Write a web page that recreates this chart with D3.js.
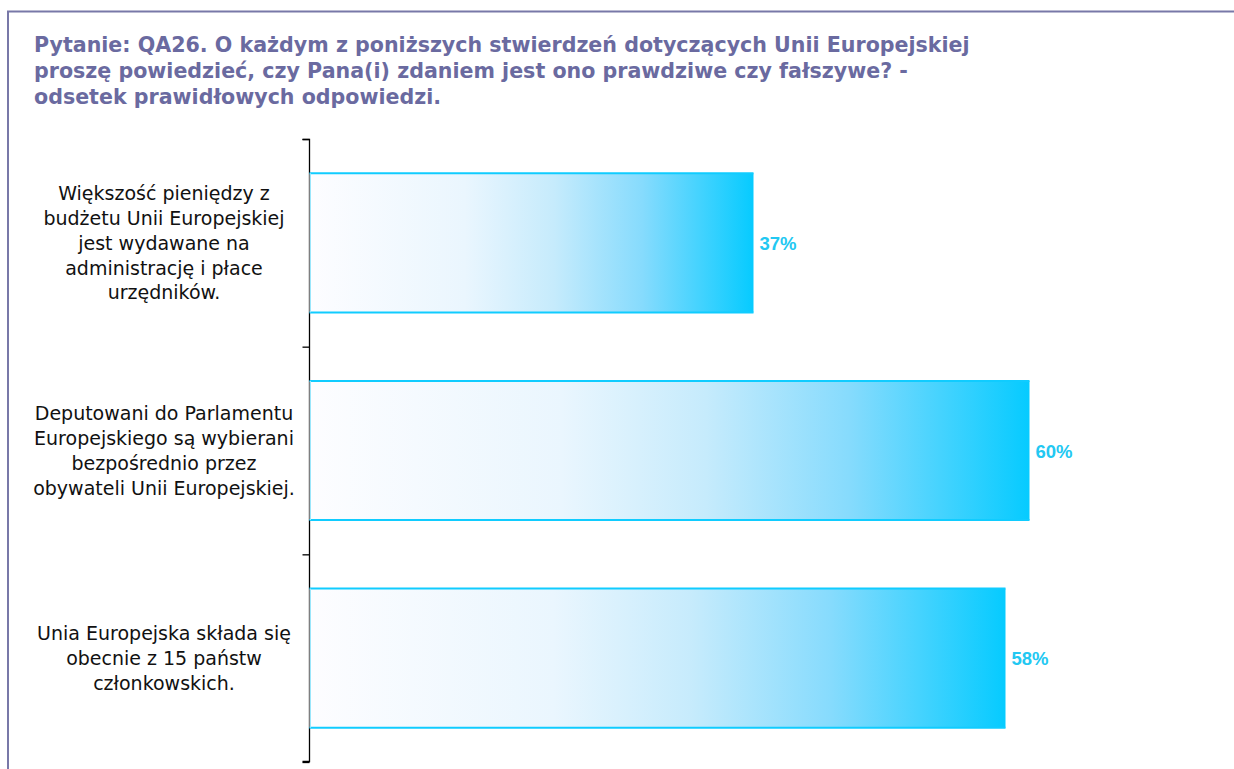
<!DOCTYPE html>
<html><head><meta charset="utf-8">
<script src="https://cdn.jsdelivr.net/npm/d3@7"></script>
<style>body{margin:0;background:#fff;overflow:hidden}</style>
</head><body>
<script>
const titleLines = [
  "Pytanie: QA26. O każdym z poniższych stwierdzeń dotyczących Unii Europejskiej",
  "proszę powiedzieć, czy Pana(i) zdaniem jest ono prawdziwe czy fałszywe? -",
  "odsetek prawidłowych odpowiedzi."
];
const categories = [
  ["Większość pieniędzy z","budżetu Unii Europejskiej","jest wydawane na","administrację i płace","urzędników."],
  ["Deputowani do Parlamentu","Europejskiego są wybierani","bezpośrednio przez","obywateli Unii Europejskiej."],
  ["Unia Europejska składa się","obecnie z 15 państw","członkowskich."]
];
const values = [37, 60, 58];

const W = 1234, H = 769;
const svg = d3.select("body").append("svg").attr("width", W).attr("height", H);

// frame
svg.append("path").attr("d", `M8,${H+5} L8,11.5 L${W+5},11.5`)
  .attr("fill","none").attr("stroke","#7878a8").attr("stroke-width",2);

// title
svg.append("g").selectAll("text").data(titleLines).join("text")
  .attr("x", 34).attr("y", (d,i)=> 52 + i*26)
  .attr("font-family","'DejaVu Sans', Verdana, sans-serif").attr("font-weight","bold")
  .attr("font-size", 20.6).attr("fill","#6a6aa0").text(d=>d);

const x = d3.scaleLinear().domain([0,100]).range([309.5, 1509.5]);
const y = d3.scaleBand().domain(d3.range(values.length)).range([139, 762]).paddingInner(0.33).paddingOuter(0.165);

const defs = svg.append("defs");
const grad = defs.append("linearGradient").attr("id","barGrad").attr("x1","0").attr("x2","1").attr("y1","0").attr("y2","0");
[[0,"#fdfdff"],[0.35,"#eaf6fe"],[0.55,"#c6ebfc"],[0.75,"#86dbfd"],[1,"#06cbff"]].forEach(s=>
  grad.append("stop").attr("offset",s[0]).attr("stop-color",s[1]));

// axis
const axis = d3.axisLeft(d3.scaleLinear().domain([0,3]).range([139,762])).ticks(3).tickSize(7).tickFormat("");
const ag = svg.append("g").attr("transform","translate(309.5,0)").call(axis);
ag.select(".domain").attr("stroke","#000").attr("stroke-width",1.3).attr("d","M-7,139.5H0V761.5H-7");
ag.selectAll(".tick line").attr("stroke","#000").attr("stroke-width",1.3);

const bars = svg.append("g").selectAll("g").data(values).join("g");
bars.append("rect")
  .attr("x", x(0)).attr("y", (d,i)=>y(i)).attr("width", d=>x(d)-x(0)).attr("height", y.bandwidth())
  .attr("fill","url(#barGrad)");
bars.append("line").attr("x1",x(0)).attr("x2",d=>x(d)).attr("y1",(d,i)=>y(i)).attr("y2",(d,i)=>y(i))
  .attr("stroke","#10ccff").attr("stroke-width",2);
bars.append("line").attr("x1",x(0)).attr("x2",d=>x(d)).attr("y1",(d,i)=>y(i)+y.bandwidth()).attr("y2",(d,i)=>y(i)+y.bandwidth())
  .attr("stroke","#10ccff").attr("stroke-width",2);
bars.append("line").attr("x1",x(0)+1).attr("x2",x(0)+1).attr("y1",(d,i)=>y(i)).attr("y2",(d,i)=>y(i)+y.bandwidth())
  .attr("stroke","#9ae6fb").attr("stroke-width",1);

bars.append("text").attr("x", d=>x(d)+6).attr("y",(d,i)=>y(i)+y.bandwidth()/2+7)
  .attr("font-family","'Liberation Sans', Arial, sans-serif").attr("font-weight","bold").attr("font-size",18.5)
  .attr("fill","#22c8f2").text(d=>d+"%");

// category labels
const lh = 24.75;
svg.append("g").selectAll("text").data(categories).join("text")
  .attr("font-family","'DejaVu Sans', Verdana, sans-serif").attr("font-size",19).attr("fill","#111")
  .attr("text-anchor","middle")
  .each(function(lines,i){
    const cy = y(i)+y.bandwidth()/2;
    const y0 = cy - (lines.length-1)*lh/2 + 7;
    d3.select(this).selectAll("tspan").data(lines).join("tspan")
      .attr("x",164).attr("y",(d,j)=>y0+j*lh).text(d=>d);
  });
</script>
</body></html>
